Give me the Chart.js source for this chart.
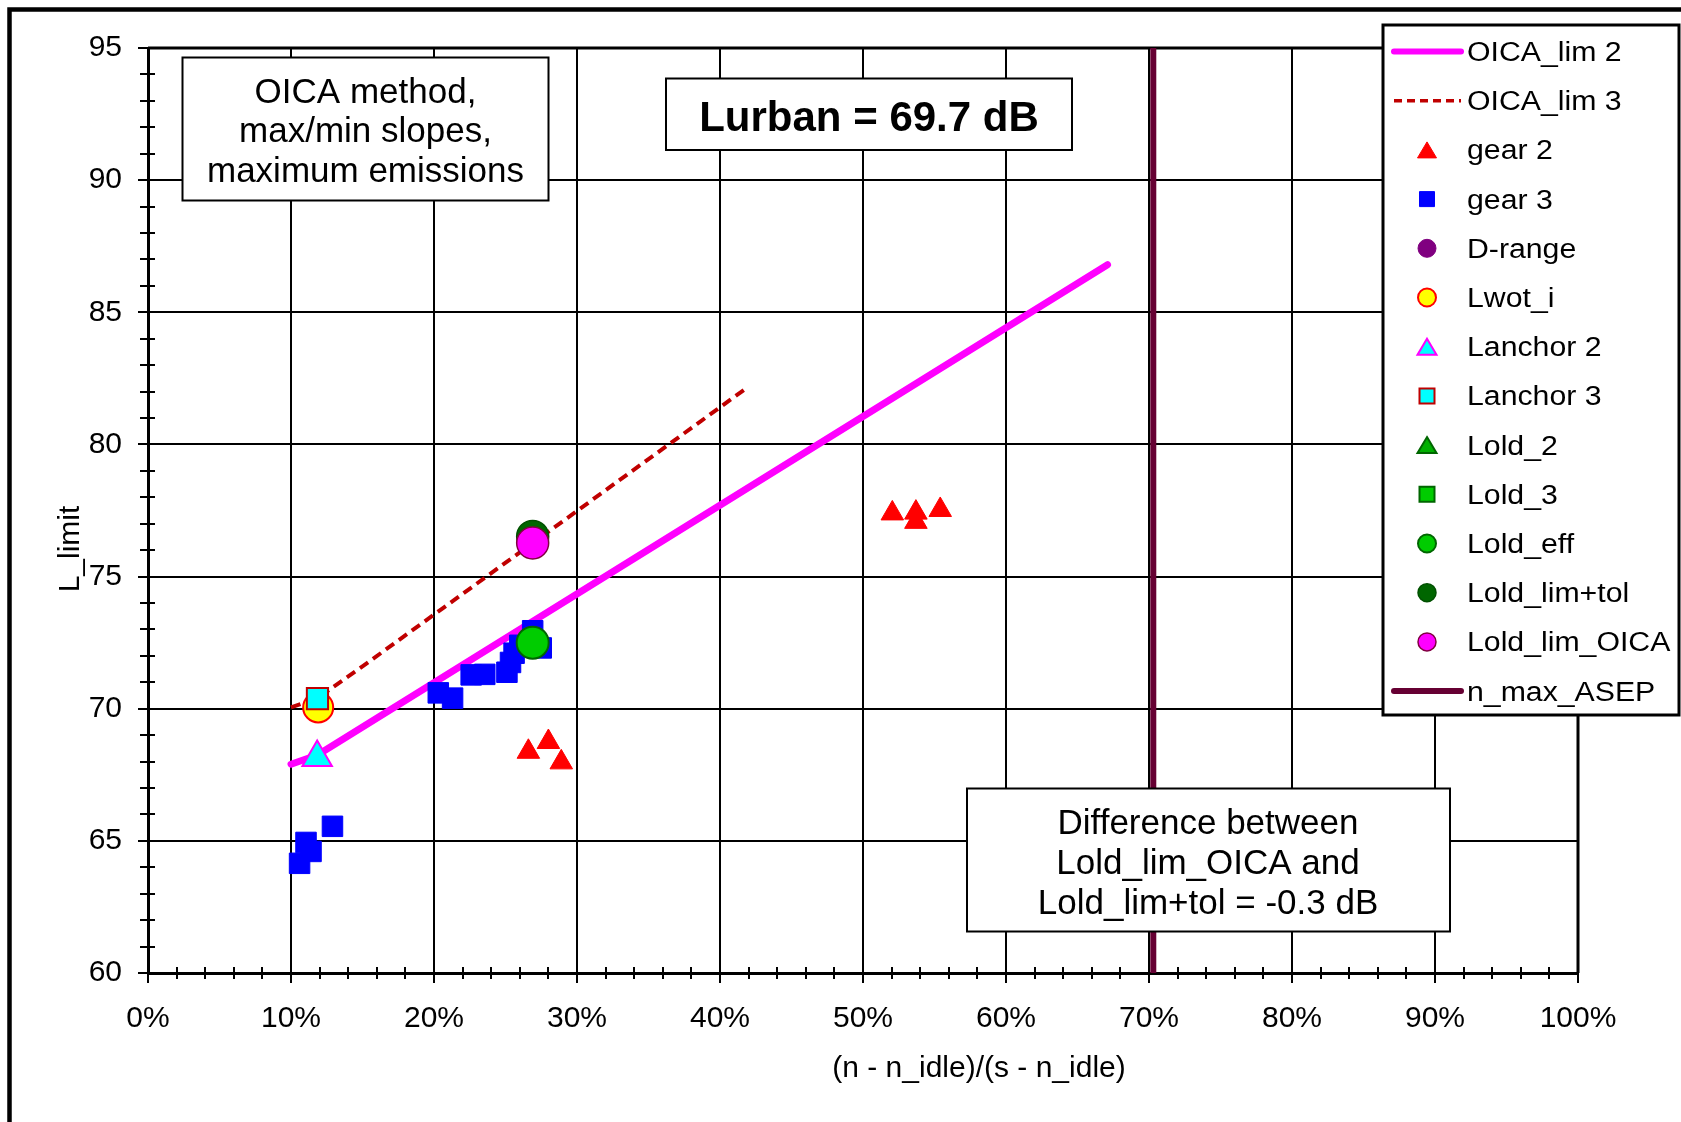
<!DOCTYPE html>
<html>
<head>
<meta charset="utf-8">
<script src="https://cdn.jsdelivr.net/npm/chart.js@4.4.0/dist/chart.umd.min.js"></script>
<style>
html,body{margin:0;padding:0;background:#fff;}
#wrap{width:1681px;height:1122px;}
</style>
</head>
<body>
<div id="wrap"><canvas id="c" width="1681" height="1122"></canvas></div>
<script>
// ---------- DATA ----------
const xTickValues = [0,10,20,30,40,50,60,70,80,90,100];
const xTickLabels = ['0%','10%','20%','30%','40%','50%','60%','70%','80%','90%','100%'];
const yTickValues = [60,65,70,75,80,85,90,95];

const seriesNames = ['OICA_lim 2','OICA_lim 3','gear 2','gear 3','D-range','Lwot_i','Lanchor 2','Lanchor 3','Lold_2','Lold_3','Lold_eff','Lold_lim+tol','Lold_lim_OICA','n_max_ASEP'];

const oicaLim2X = [10, 11.85, 67.1];
const oicaLim2Y = [67.9, 68.25, 86.8];

const oicaLim3X = [10, 11.85, 15.0, 41.9];
const oicaLim3Y = [70.05, 70.4, 71.6, 82.15];

const gear2X = [26.6, 28.0, 28.9, 52.05, 53.7, 53.7, 55.4];
const gear2Y = [68.37, 68.74, 67.97, 77.39, 77.42, 77.07, 77.52];

const gear3X = [10.6, 11.05, 11.4, 12.9, 20.3, 21.3, 22.6, 23.55, 25.1, 25.35, 25.6, 26.0, 26.9, 27.5];
const gear3Y = [64.15, 64.94, 64.6, 65.55, 70.6, 70.4, 71.28, 71.3, 71.38, 71.75, 72.1, 72.4, 72.95, 72.3];

const dRangeX = [];
const dRangeY = [];

const lwotX = [11.9];
const lwotY = [70.05];

const lanchor2X = [11.83];
const lanchor2Y = [68.15];

const lanchor3X = [11.85];
const lanchor3Y = [70.38];

const lold2X = [];
const lold2Y = [];

const lold3X = [];
const lold3Y = [];

const loldEffX = [26.9];
const loldEffY = [72.5];

const loldLimTolX = [26.9];
const loldLimTolY = [76.52];

const loldLimOicaX = [26.9];
const loldLimOicaY = [76.27];

const nMaxAsepX = [70.3, 70.3];
const nMaxAsepY = [60, 95];

const textOica = ['OICA method,', 'max/min slopes,', 'maximum emissions'];
const textLurban = 'Lurban = 69.7 dB';
const textDiff = ['Difference between', 'Lold_lim_OICA and', 'Lold_lim+tol = -0.3 dB'];
const xTitle = '(n - n_idle)/(s - n_idle)';
const yTitle = 'L_limit';

// ---------- BUILD ----------
function pts(xs, ys){ return xs.map((x,i)=>({x:x, y:ys[i]})); }

const FONT = "'Liberation Sans', Arial, Helvetica, sans-serif";
Chart.defaults.font.family = FONT;
Chart.defaults.color = '#000';

const styles = [
  {kind:'line', color:'#FF00FF', width:7},
  {kind:'line', color:'#C00000', width:4, dash:[10,6]},
  {kind:'pt', style:'triangle', bg:'#FF0000', bd:'#FF0000', bw:1, r:13, lr:10},
  {kind:'pt', style:'rect', bg:'#0000FF', bd:'#0000FF', bw:1, r:14.5, lr:12},
  {kind:'pt', style:'circle', bg:'#800080', bd:'#800080', bw:1, r:12, lr:9},
  {kind:'pt', style:'circle', bg:'#FFFF00', bd:'#FF0000', bw:2, r:15, lr:9},
  {kind:'pt', style:'triangle', bg:'#00FFFF', bd:'#FF00FF', bw:2, r:17, lr:10},
  {kind:'pt', style:'rect', bg:'#00FFFF', bd:'#C00000', bw:2, r:15, lr:12},
  {kind:'pt', style:'triangle', bg:'#00B000', bd:'#006600', bw:2, r:12, lr:10},
  {kind:'pt', style:'rect', bg:'#00CC00', bd:'#006600', bw:2, r:12, lr:12},
  {kind:'pt', style:'circle', bg:'#00CC00', bd:'#006600', bw:2, r:16, lr:9},
  {kind:'pt', style:'circle', bg:'#006600', bd:'#005000', bw:1.5, r:16, lr:9},
  {kind:'pt', style:'circle', bg:'#FF00FF', bd:'#800040', bw:1.5, r:16, lr:9},
  {kind:'line', color:'#660033', width:6}
];

const dataSets = [
  pts(oicaLim2X, oicaLim2Y), pts(oicaLim3X, oicaLim3Y), pts(gear2X, gear2Y), pts(gear3X, gear3Y),
  pts(dRangeX, dRangeY), pts(lwotX, lwotY), pts(lanchor2X, lanchor2Y), pts(lanchor3X, lanchor3Y),
  pts(lold2X, lold2Y), pts(lold3X, lold3Y), pts(loldEffX, loldEffY), pts(loldLimTolX, loldLimTolY),
  pts(loldLimOicaX, loldLimOicaY), pts(nMaxAsepX, nMaxAsepY)
];

const N = seriesNames.length;
const datasets = seriesNames.map((name, i) => {
  const s = styles[i];
  if (s.kind === 'line') {
    return {
      label: name, data: dataSets[i], showLine: true, order: N - i,
      borderColor: s.color, backgroundColor: s.color, borderWidth: s.width,
      borderDash: s.dash || [], borderCapStyle: s.dash ? 'butt' : 'round', borderJoinStyle: 'round',
      pointRadius: 0, pointHoverRadius: 0, tension: 0, fill: false
    };
  }
  return {
    label: name, data: dataSets[i], showLine: false, order: N - i,
    pointStyle: s.style, pointRadius: s.r, pointHoverRadius: s.r,
    pointBackgroundColor: s.bg, pointBorderColor: s.bd, pointBorderWidth: s.bw,
    backgroundColor: s.bg, borderColor: s.bd
  };
});

// ---------- DECORATION PLUGIN ----------
function drawMarker(ctx, style, x, y, r, bg, bd, bw){
  ctx.save();
  ctx.fillStyle = bg; ctx.strokeStyle = bd; ctx.lineWidth = bw;
  ctx.beginPath();
  if (style === 'circle') {
    ctx.arc(x, y, r, 0, Math.PI*2);
  } else if (style === 'rect') {
    ctx.rect(x - r/2 - 1.5, y - r/2 - 1.5, r + 3, r + 3);
  } else {
    const h = r * 1.6;
    ctx.moveTo(x, y - h/2);
    ctx.lineTo(x + r*0.95, y + h/2);
    ctx.lineTo(x - r*0.95, y + h/2);
    ctx.closePath();
  }
  ctx.fill(); ctx.stroke();
  ctx.restore();
}

function box(ctx, l, t, r, b){
  ctx.save();
  ctx.fillStyle = '#fff'; ctx.fillRect(l, t, r - l, b - t);
  ctx.strokeStyle = '#000'; ctx.lineWidth = 2; ctx.strokeRect(l, t, r - l, b - t);
  ctx.restore();
}

const deco = {
  id: 'deco',
  beforeDraw(chart){
    const ctx = chart.ctx;
    ctx.save(); ctx.fillStyle = '#fff'; ctx.fillRect(0,0,chart.width,chart.height); ctx.restore();
  },
  beforeDatasetsDraw(chart){
    const ctx = chart.ctx, xs = chart.scales.x, ys = chart.scales.y, a = chart.chartArea;
    ctx.save();
    ctx.strokeStyle = '#000'; ctx.lineWidth = 2;
    for (let v = 61; v < 95; v++) {
      if (v % 5 === 0) continue;
      const py = Math.round(ys.getPixelForValue(v));
      ctx.beginPath(); ctx.moveTo(a.left - 8, py); ctx.lineTo(a.left + 7, py); ctx.stroke();
    }
    for (let v = 2; v < 100; v += 2) {
      if (v % 10 === 0) continue;
      const px = Math.round(xs.getPixelForValue(v));
      ctx.beginPath(); ctx.moveTo(px, a.bottom - 6); ctx.lineTo(px, a.bottom + 6); ctx.stroke();
    }
    ctx.lineWidth = 3;
    ctx.beginPath();
    ctx.moveTo(a.left, a.top); ctx.lineTo(a.right, a.top); ctx.lineTo(a.right, a.bottom);
    ctx.stroke();
    ctx.restore();
  },
  afterDatasetsDraw(chart){
    const ctx = chart.ctx;
    box(ctx, 182.5, 57.5, 548.5, 200.5);
    box(ctx, 666, 78.5, 1072, 150);
    box(ctx, 967, 788.5, 1450, 931.5);
    ctx.save();
    ctx.fillStyle = '#000';
    ctx.textAlign = 'center'; ctx.textBaseline = 'alphabetic';
    ctx.font = '35px ' + FONT;
    textOica.forEach((t, i) => ctx.fillText(t, 365.5, 102.5 + 39.7*i));
    textDiff.forEach((t, i) => ctx.fillText(t, 1208, 833.5 + 40*i));
    ctx.font = 'bold 42px ' + FONT;
    ctx.fillText(textLurban, 869, 131);
    ctx.font = '30px ' + FONT;
    ctx.textBaseline = 'middle';
    ctx.fillText(xTitle, 979, 1069);
    ctx.save();
    ctx.translate(70.5, 549); ctx.rotate(-Math.PI/2);
    ctx.fillText(yTitle, 0, 0);
    ctx.restore();
    ctx.restore();

    const L = 1383, T = 25, R = 1679, B = 715;
    ctx.save();
    ctx.fillStyle = '#fff'; ctx.fillRect(L, T, R - L, B - T);
    ctx.strokeStyle = '#000'; ctx.lineWidth = 3; ctx.strokeRect(L, T, R - L, B - T);
    seriesNames.forEach((name, i) => {
      const y = 51.5 + 49.2 * i;
      const s = styles[i];
      if (s.kind === 'line') {
        ctx.save();
        ctx.strokeStyle = s.color; ctx.lineWidth = s.dash ? 3.5 : 6;
        ctx.lineCap = s.dash ? 'butt' : 'round';
        ctx.setLineDash(s.dash ? [8,5] : []);
        ctx.beginPath(); ctx.moveTo(1394, y); ctx.lineTo(1461, y); ctx.stroke();
        ctx.restore();
      } else {
        drawMarker(ctx, s.style, 1427, y, s.lr, s.bg, s.bd, Math.min(s.bw, 2));
      }
      ctx.save();
      ctx.fillStyle = '#000'; ctx.font = '27px ' + FONT;
      ctx.textAlign = 'left'; ctx.textBaseline = 'middle';
      ctx.translate(1467, y + 2); ctx.scale(1.12, 1);
      ctx.fillText(name, 0, 0);
      ctx.restore();
    });
    ctx.restore();

    ctx.save();
    ctx.strokeStyle = '#000'; ctx.lineWidth = 4.5;
    ctx.beginPath(); ctx.moveTo(9.5, 1122); ctx.lineTo(9.5, 9.5); ctx.lineTo(1681, 9.5); ctx.stroke();
    ctx.restore();
  }
};

// ---------- CHART ----------
new Chart(document.getElementById('c'), {
  type: 'scatter',
  data: { datasets: datasets },
  options: {
    responsive: false,
    animation: false,
    events: [],
    layout: { padding: { top: 48, right: 103, left: 0, bottom: 0 } },
    plugins: { legend: { display: false }, tooltip: { enabled: false }, title: { display: false } },
    scales: {
      x: {
        type: 'linear', min: 0, max: 100,
        afterFit: (s) => { s.height = 149; },
        afterBuildTicks: (s) => { s.ticks = xTickValues.map(v => ({value: v})); },
        ticks: { callback: (v) => xTickLabels[xTickValues.indexOf(v)], font: { size: 30, family: FONT }, color: '#000', padding: 18, maxRotation: 0, autoSkip: false },
        grid: { color: '#000', lineWidth: 2, tickLength: 10, tickColor: '#000', tickWidth: 2 },
        border: { color: '#000', width: 3 },
        title: { display: false }
      },
      y: {
        type: 'linear', min: 60, max: 95,
        afterFit: (s) => { s.width = 148; },
        afterBuildTicks: (s) => { s.ticks = yTickValues.map(v => ({value: v})); },
        ticks: { font: { size: 30, family: FONT }, color: '#000', padding: 16, autoSkip: false },
        grid: { color: '#000', lineWidth: 2, tickLength: 10, tickColor: '#000', tickWidth: 2 },
        border: { color: '#000', width: 3 },
        title: { display: false }
      }
    }
  },
  plugins: [deco]
});
</script>
</body>
</html>
